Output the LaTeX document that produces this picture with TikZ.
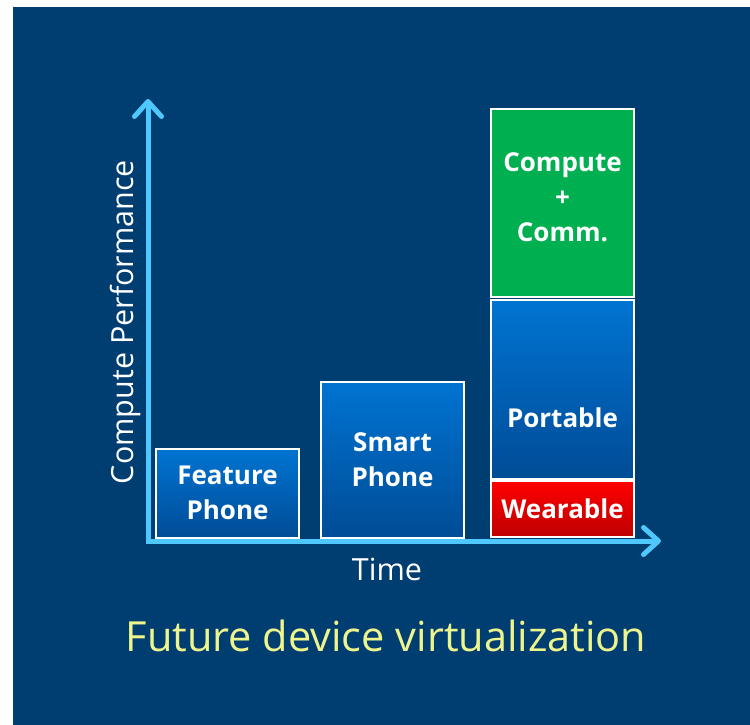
\documentclass[tikz,border=0pt]{standalone}
\usepackage{fontspec}
\setmainfont{Open Sans}
\usetikzlibrary{arrows.meta}

\definecolor{panelnavy}{RGB}{0,61,113}
\definecolor{axisblue}{RGB}{79,200,255}
\definecolor{bartop}{RGB}{0,116,210}
\definecolor{barbottom}{RGB}{0,76,150}
\definecolor{commgreen}{RGB}{0,176,80}
\definecolor{weartop}{RGB}{255,0,0}
\definecolor{wearbottom}{RGB}{190,0,0}
\definecolor{titleyellow}{RGB}{238,245,140}

\tikzset{
    bar/.style={draw=white, line width=2pt, minimum width=143pt, inner sep=0pt,
        top color=bartop, bottom color=barbottom,
        text=white, align=center, font=\bfseries\fontsize{26}{35}\selectfont},
    bartext/.style={text=white, align=center, font=\bfseries\fontsize{26}{35}\selectfont},
    axis/.style={axisblue, line width=5pt,
        {Straight Barb[length=15pt, width=27pt, round]}-{Straight Barb[length=15pt, width=27pt, round]}},
    axislabel/.style={text=white, font=\fontsize{30.5}{35}\selectfont}
}

\begin{document}
\begin{tikzpicture}[x=1pt, y=-1pt]
                \useasboundingbox (0,0) rectangle (750,725);
                \fill[white] (0,0) rectangle (750,725);
                \fill[panelnavy] (13,7) rectangle (750,725);

                % bars
                \node[bar, minimum height=89pt] (feature) at (227.5,493) {Feature\\Phone};
                \node[bar, minimum height=156pt] (smart) at (392.5,459.5) {Smart\\Phone};
                \node[bar, top color=commgreen, bottom color=commgreen,
                      minimum height=188pt] (comm) at (562.5,203) {};
                \node[bar, minimum height=179pt] (portable) at (562.5,389) {};
                \node[bar, top color=weartop, bottom color=wearbottom,
                      minimum height=56pt] (wear) at (562.5,509) {Wearable};
                \node[bartext] at ([yshift=6pt]comm.center) {Compute\\+\\Comm.};
                \node[bartext] at ([yshift=-29pt]portable.center) {Portable};

                % axes
                \coordinate (ytip) at (148,99);
                \coordinate (origin) at (148,541);
                \coordinate (xtip) at (661,541);
                \draw[axis] (ytip) -- (origin) -- (xtip);

                \node[axislabel, rotate=90] (ylabel) at (125,322) {Compute Performance};
                \node[axislabel] (xlabel) at (387,569) {Time};

                \node[text=titleyellow, font=\fontsize{41.5}{44}\selectfont] (title) at (386,636)
                    {Future device virtualization};
            \end{tikzpicture}
\end{document}
